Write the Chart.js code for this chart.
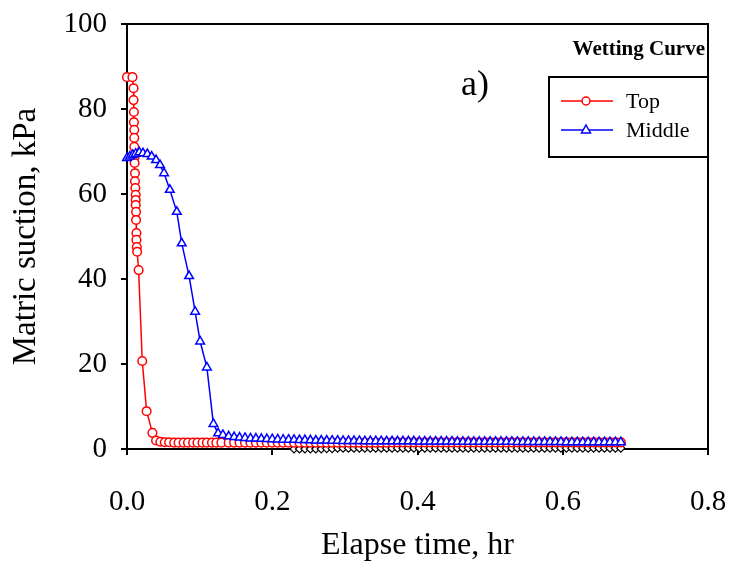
<!DOCTYPE html>
<html>
<head>
<meta charset="utf-8">
<script src="https://cdn.jsdelivr.net/npm/chart.js@4/dist/chart.umd.min.js"></script>
<style>
  html, body { margin: 0; padding: 0; background: #fff; }
  #wrap { width: 733px; height: 562px; }
</style>
</head>
<body>
<div id="wrap"><canvas id="suctionChart" width="733" height="562"></canvas></div>
<script>
// early readings (hr, kPa) for the top sensor
const topHr = [0.000, 0.0075, 0.009, 0.009, 0.0095, 0.0095, 0.010, 0.010, 0.010, 0.0105,
    0.0105, 0.011, 0.011, 0.0115, 0.012, 0.012, 0.012, 0.0125, 0.0125, 0.013,
    0.013, 0.0135, 0.014, 0.016, 0.021, 0.027, 0.035, 0.040, 0.046, 0.052,
    0.058, 0.065, 0.071, 0.078, 0.084, 0.091, 0.097, 0.104, 0.110, 0.117,
    0.123, 0.130];
const topKpa = [87.5, 87.5, 84.9, 82.1, 79.3, 76.9, 75.1, 73.2, 71.1, 68.7,
    67.3, 64.9, 63.0, 61.4, 59.8, 58.6, 57.4, 55.8, 53.9, 50.8,
    49.2, 47.5, 46.4, 42.1, 20.7, 8.9, 3.8, 2.0, 1.7, 1.6,
    1.6, 1.5, 1.5, 1.5, 1.5, 1.5, 1.5, 1.5, 1.5, 1.5,
    1.5, 1.5];

// early readings for the middle sensor
const middleHr = [0.000, 0.004, 0.008, 0.012, 0.017, 0.022, 0.028, 0.034, 0.040, 0.0455,
    0.051, 0.059, 0.0686, 0.0754, 0.0855, 0.0938, 0.1007, 0.110, 0.119, 0.1255, 0.132];
const middleKpa = [68.5, 68.8, 69.2, 69.5, 69.8, 69.6, 69.4, 68.8, 68.0, 66.8,
    64.9, 61.0, 55.8, 48.4, 40.7, 32.3, 25.3, 19.2, 5.9, 3.7, 3.3];

// later readings, shared time base
const tailHr = [0.140, 0.1475, 0.155, 0.1625, 0.170, 0.1775, 0.185, 0.1925, 0.200, 0.2075,
    0.215, 0.2225, 0.230, 0.2375, 0.245, 0.2525, 0.260, 0.2675, 0.275, 0.2825,
    0.290, 0.2975, 0.305, 0.3125, 0.320, 0.3275, 0.335, 0.3425, 0.350, 0.3575,
    0.365, 0.3725, 0.380, 0.3875, 0.395, 0.4025, 0.410, 0.4175, 0.425, 0.4325,
    0.440, 0.4475, 0.455, 0.4625, 0.470, 0.4775, 0.485, 0.4925, 0.500, 0.5075,
    0.515, 0.5225, 0.530, 0.5375, 0.545, 0.5525, 0.560, 0.5675, 0.575, 0.5825,
    0.590, 0.5975, 0.605, 0.6125, 0.620, 0.6275, 0.635, 0.6425, 0.650, 0.6575,
    0.665, 0.6725, 0.680];
const topTailKpa = [1.5, 1.5, 1.5, 1.5, 1.5, 1.5, 1.5, 1.5, 1.5, 1.5,
    1.5, 1.5, 1.5, 1.5, 1.5, 1.5, 1.5, 1.5, 1.5, 1.5,
    1.5, 1.5, 1.5, 1.5, 1.5, 1.5, 1.5, 1.5, 1.5, 1.5,
    1.55, 1.55, 1.55, 1.55, 1.55, 1.55, 1.55, 1.55, 1.55, 1.55,
    1.55, 1.55, 1.55, 1.55, 1.55, 1.55, 1.55, 1.55, 1.55, 1.55,
    1.55, 1.55, 1.55, 1.55, 1.55, 1.55, 1.55, 1.55, 1.55, 1.55,
    1.55, 1.55, 1.55, 1.55, 1.55, 1.55, 1.55, 1.55, 1.55, 1.55,
    1.55, 1.55, 1.55];
const middleTailKpa = [3.0, 2.8, 2.7, 2.6, 2.5, 2.45, 2.4, 2.35, 2.3, 2.25,
    2.2, 2.2, 2.15, 2.1, 2.1, 2.05, 2.0, 2.0, 2.0, 1.95,
    1.95, 1.9, 1.9, 1.9, 1.9, 1.85, 1.85, 1.85, 1.85, 1.8,
    1.8, 1.8, 1.8, 1.8, 1.8, 1.75, 1.75, 1.75, 1.75, 1.75,
    1.75, 1.75, 1.7, 1.7, 1.7, 1.7, 1.7, 1.7, 1.7, 1.7,
    1.7, 1.7, 1.7, 1.65, 1.65, 1.65, 1.65, 1.65, 1.65, 1.65,
    1.65, 1.65, 1.6, 1.6, 1.6, 1.6, 1.6, 1.6, 1.6, 1.6,
    1.6, 1.6, 1.6];

// bottom sensor, only logged from 0.23 hr on
const bottomHr = tailHr.slice(12);
const bottomKpa = [0.0, 0.0, 0.0, 0.0, 0.0, 0.0, 0.1, 0.1, 0.2, 0.2,
    0.2, 0.2, 0.2, 0.2, 0.2, 0.2, 0.2, 0.2, 0.2, 0.2,
    0.2, 0.2, 0.2, 0.2, 0.2, 0.2, 0.2, 0.2, 0.2, 0.2,
    0.2, 0.2, 0.2, 0.2, 0.2, 0.2, 0.2, 0.2, 0.2, 0.2,
    0.2, 0.2, 0.2, 0.2, 0.2, 0.2, 0.2, 0.2, 0.2, 0.2,
    0.2, 0.2, 0.2, 0.2, 0.2, 0.2, 0.2, 0.2, 0.2, 0.2,
    0.2];

const xTicks = [0, 0.2, 0.4, 0.6, 0.8];
const yTicks = [0, 20, 40, 60, 80, 100];

function toPoints(hr, kpa) {
    return hr.map((h, i) => ({ x: h, y: kpa[i] }));
}

// keep tick labels from pushing the plot area inwards
function noOverflow(scale) {
    scale.paddingTop = 0;
    scale.paddingBottom = 0;
    scale.paddingLeft = 0;
    scale.paddingRight = 0;
}

const serif = 'Liberation Serif';

// frame around the plot, "a)" tag and the boxed legend
const decorations = {
    id: 'decorations',
    beforeDatasetsDraw(chart) {
        const { ctx, chartArea: a } = chart;
        ctx.save();
        ctx.strokeStyle = '#000';
        ctx.lineWidth = 2;
        ctx.strokeRect(a.left, a.top, a.right - a.left, a.bottom - a.top);
        ctx.restore();
    },
    afterDraw(chart) {
        const { ctx, chartArea: a } = chart;
        ctx.save();
        ctx.fillStyle = '#000';
        ctx.textBaseline = 'middle';

        ctx.font = '36px ' + serif;
        ctx.textAlign = 'left';
        ctx.fillText('a)', a.right - 247, a.top + 62);

        ctx.font = 'bold 21px ' + serif;
        ctx.textAlign = 'right';
        ctx.fillText('Wetting Curve', a.right - 3, a.top + 26);

        const bx = a.right - 159, by = a.top + 53;
        ctx.strokeStyle = '#000';
        ctx.lineWidth = 2;
        ctx.strokeRect(bx, by, 159, 80);

        const items = [
            { label: 'Top', color: '#ff0000', style: 'circle', y: by + 24 },
            { label: 'Middle', color: '#0000ff', style: 'triangle', y: by + 53 }
        ];
        items.forEach(it => {
            ctx.strokeStyle = it.color;
            ctx.lineWidth = 1.5;
            ctx.beginPath();
            ctx.moveTo(bx + 12, it.y);
            ctx.lineTo(bx + 64, it.y);
            ctx.stroke();
            const cx = bx + 37;
            ctx.fillStyle = '#fff';
            ctx.beginPath();
            if (it.style === 'circle') {
                ctx.arc(cx, it.y, 4, 0, Math.PI * 2);
            } else {
                ctx.moveTo(cx, it.y - 5);
                ctx.lineTo(cx + 4.5, it.y + 3);
                ctx.lineTo(cx - 4.5, it.y + 3);
                ctx.closePath();
            }
            ctx.fill();
            ctx.stroke();
            ctx.fillStyle = '#000';
            ctx.font = '22px ' + serif;
            ctx.textAlign = 'left';
            ctx.fillText(it.label, bx + 77, it.y + 1);
        });
        ctx.restore();
    }
};

const ctx = document.getElementById('suctionChart').getContext('2d');

new Chart(ctx, {
    type: 'scatter',
    data: {
        datasets: [
            {
                label: 'Bottom',
                data: toPoints(bottomHr, bottomKpa),
                showLine: true,
                borderColor: '#000',
                backgroundColor: '#fff',
                borderWidth: 1.2,
                pointStyle: 'rectRot',
                pointRadius: 4,
                pointBorderWidth: 1.2,
                order: 3
            },
            {
                label: 'Top',
                data: toPoints(topHr.concat(tailHr), topKpa.concat(topTailKpa)),
                showLine: true,
                borderColor: '#ff0000',
                backgroundColor: '#fff',
                borderWidth: 1.5,
                pointStyle: 'circle',
                pointRadius: 4.3,
                pointBorderWidth: 1.5,
                order: 2
            },
            {
                label: 'Middle',
                data: toPoints(middleHr.concat(tailHr), middleKpa.concat(middleTailKpa)),
                showLine: true,
                borderColor: '#0000ff',
                backgroundColor: '#fff',
                borderWidth: 1.5,
                pointStyle: 'triangle',
                pointRadius: 5,
                pointBorderWidth: 1.5,
                order: 1
            }
        ]
    },
    options: {
        responsive: false,
        animation: false,
        clip: false,
        layout: {
            padding: { left: 0, right: 25, top: 24, bottom: 0 }
        },
        plugins: {
            legend: { display: false },
            tooltip: { enabled: false }
        },
        scales: {
            x: {
                type: 'linear',
                min: 0,
                max: 0.8,
                afterBuildTicks: scale => { scale.ticks = xTicks.map(v => ({ value: v })); },
                afterFit: scale => { scale.height = 113; noOverflow(scale); },
                border: { display: false },
                grid: { drawOnChartArea: false, color: '#000', lineWidth: 2, tickLength: 6 },
                ticks: {
                    color: '#000',
                    padding: 30,
                    maxRotation: 0,
                    font: { family: serif, size: 29 },
                    callback: v => v.toFixed(1)
                },
                title: {
                    display: true,
                    text: 'Elapse time, hr',
                    color: '#000',
                    padding: { top: 0, bottom: 0 },
                    font: { family: serif, size: 32, lineHeight: 1.0 }
                }
            },
            y: {
                min: 0,
                max: 100,
                afterBuildTicks: scale => { scale.ticks = yTicks.map(v => ({ value: v })); },
                afterFit: scale => { scale.width = 127; noOverflow(scale); },
                border: { display: false },
                grid: { drawOnChartArea: false, color: '#000', lineWidth: 2, tickLength: 6 },
                ticks: {
                    color: '#000',
                    padding: 14,
                    font: { family: serif, size: 29 }
                },
                title: {
                    display: true,
                    text: 'Matric suction, kPa',
                    color: '#000',
                    padding: { top: 7, bottom: 0 },
                    font: { family: serif, size: 33 }
                }
            }
        }
    },
    plugins: [decorations]
});
</script>
</body>
</html>
